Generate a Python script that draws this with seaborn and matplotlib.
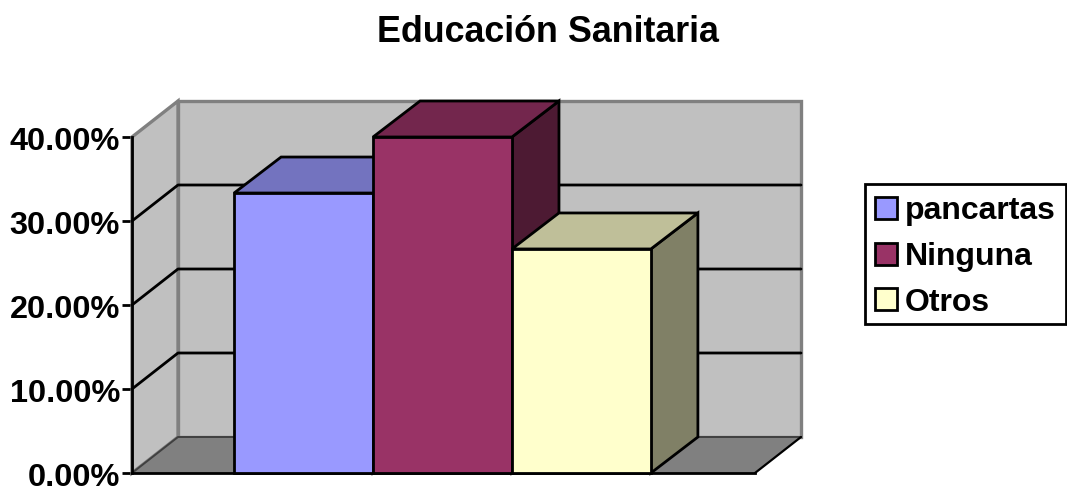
import matplotlib
matplotlib.use('Agg')
import matplotlib.pyplot as plt
from matplotlib.patches import Patch, Polygon, Rectangle
from matplotlib.transforms import ScaledTranslation
import pandas as pd
import seaborn as sns

titulo = 'Educación Sanitaria'
categorias = ['pancartas', 'Ninguna', 'Otros']
valores = [33.33, 40.0, 26.67]
ticks = [0, 10, 20, 30, 40]
tick_labels = ['0.00%', '10.00%', '20.00%', '30.00%', '40.00%']
color_frente = ['#9999FF', '#993366', '#FFFFCC']
color_arriba = ['#7373BF', '#73264D', '#BFBF99']
color_lado = ['#5B5B99', '#4D1A33', '#808066']

W, H = 1067, 492
# profundidad de la caja 3D, en unidades de datos
dx = 46 / 623
dx_barra = 47 / 623
dy = 36 / 336 * 40
lw_negro = 2.0

sns.set_theme(style='white')
plt.rcParams['font.family'] = ['Liberation Sans', 'DejaVu Sans']
plt.rcParams['font.weight'] = 'bold'

fig = plt.figure(figsize=(W / 100, H / 100), dpi=100)
ax = fig.add_axes([132 / W, (H - 473) / H, 623 / W, 336 / H])
ax.patch.set_alpha(0)

df = pd.DataFrame({'grupo': [''] * 3, 'cat': categorias, 'valor': valores})
sns.barplot(data=df, x='grupo', y='valor', hue='cat', hue_order=categorias,
            palette=color_frente, saturation=1, width=0.669, gap=0,
            edgecolor='black', linewidth=lw_negro, legend=False, ax=ax)

x0, x1 = -0.4984, 0.5016
y0, y1 = ticks[0], ticks[-1]
ax.set_xlim(x0, x1)
ax.set_ylim(y0, y1)

# paredes y piso
gris = '#C0C0C0'
ax.add_patch(Polygon([(x0 + dx, y0 + dy), (x1 + dx, y0 + dy), (x1 + dx, y1 + dy), (x0 + dx, y1 + dy)],
                     fc=gris, ec='#808080', lw=2.4, clip_on=False, zorder=1))
ax.add_patch(Polygon([(x0, y0), (x0 + dx, y0 + dy), (x0 + dx, y1 + dy), (x0, y1)],
                     fc=gris, ec='#808080', lw=2.4, clip_on=False, zorder=1))
ax.add_patch(Polygon([(x0, y0), (x1, y0), (x1 + dx, y0 + dy), (x0 + dx, y0 + dy)],
                     fc='#808080', ec='none', clip_on=False, zorder=1.2))
ax.plot([x0, x0 + dx, x1 + dx], [y0, y0 + dy, y0 + dy], color='#404040', lw=1.4, clip_on=False, zorder=1.3)
ax.plot([x1, x1 + dx], [y0, y0 + dy], color='black', lw=1.6, clip_on=False, zorder=1.3)

# lineas de la grilla
for t in ticks[1:-1]:
    ax.plot([x0, x0 + dx, x1 + dx], [t, t + dy, t + dy], color='black', lw=lw_negro, clip_on=False, zorder=1.5)

# caras de arriba y lado de cada barra
barras = [c[0] for c in ax.containers]
for i, b in enumerate(barras):
    l, r = b.get_x(), b.get_x() + b.get_width()
    h = b.get_height()
    z = 3 + i
    ax.add_patch(Polygon([(r, 0), (r + dx_barra, dy), (r + dx_barra, h + dy), (r, h)],
                         fc=color_lado[i], ec='black', lw=lw_negro, clip_on=False, zorder=z))
    ax.add_patch(Polygon([(l, h), (l + dx_barra, h + dy), (r + dx_barra, h + dy), (r, h)],
                         fc=color_arriba[i], ec='black', lw=lw_negro, clip_on=False, zorder=z))
    b.set_zorder(z + 0.5)
    b.set_clip_on(False)

sns.despine(ax=ax, top=True, right=True)
for s in ['left', 'bottom']:
    ax.spines[s].set_color('black')
    ax.spines[s].set_linewidth(lw_negro)
    ax.spines[s].set_zorder(2)

ax.set_xticks([])
ax.set_yticks(ticks)
ax.set_yticklabels(tick_labels)
ax.tick_params(axis='y', left=True, length=7.2, width=lw_negro, color='black', pad=1.5,
               labelsize=23.4, labelcolor='black')
bajar = ScaledTranslation(0, -1 / 100, fig.dpi_scale_trans)
for lab in ax.get_yticklabels():
    lab.set_transform(lab.get_transform() + bajar)
ax.set_xlabel('')
ax.set_ylabel('')

fig.text(548 / W, 1 - 32 / H, titulo, ha='center', va='center', fontsize=25.8,
         fontweight='bold', color='black')

# marco de la leyenda aparte, el texto queda mas abajo que el centro de la caja
fig.add_artist(Rectangle((865 / W, 1 - 324 / H), 201 / W, 140 / H, transform=fig.transFigure,
                         fc='white', ec='black', lw=lw_negro, zorder=2))
handles = [Patch(fc=c, ec='black', lw=lw_negro) for c in color_frente]
leg = fig.legend(handles, categorias, loc='center left', bbox_to_anchor=(866 / W, 1 - 257 / H),
                 fontsize=23, frameon=False,
                 handlelength=0.68, handleheight=0.68, handletextpad=0.25, labelspacing=0.49,
                 borderpad=0.29, borderaxespad=0, labelcolor='black')
leg.set_zorder(3)

fig.savefig('out.png', dpi=100, facecolor='white')
